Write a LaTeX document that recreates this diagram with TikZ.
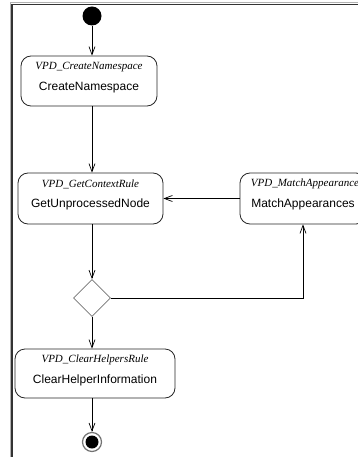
\documentclass[tikz,border=0pt]{standalone}
\usepackage{fontspec}
\setmainfont{Liberation Sans}
\newfontfamily\stereofont{Liberation Serif}
\usetikzlibrary{arrows.meta,shapes.geometric}

\tikzset{
  statebox/.style={draw=black!85, rectangle, rounded corners=10pt, inner sep=0pt, line width=0.8pt},
  stereo/.style={font=\stereofont\itshape\fontsize{11}{13}\selectfont, inner sep=0pt},
  act/.style={font=\fontsize{12}{14}\selectfont, inner sep=0pt},
  flow/.style={draw=black, line width=0.8pt, -{Straight Barb[length=8pt,width=6pt,line width=0.7pt]}},
  decision/.style={draw=black!55, diamond, inner sep=0pt, minimum width=37pt, minimum height=37pt, line width=0.8pt},
  frameline/.style={draw=black!80, line width=1.2pt},
  frameshade/.style={draw=black!30, line width=0.8pt}
}

\begin{document}
\begin{tikzpicture}[x=1pt,y=-1pt]
  \useasboundingbox (0,0) rectangle (358,457);
  \clip (0,0) rectangle (358,457);

  % swimlane frame
  \draw[frameshade] (10.8,457) -- (10.8,2.8) -- (358,2.8);
  \draw[frameline] (12,457) -- (12,4.2) -- (358,4.2);

  % initial and final states
  \node[circle, fill=black, minimum size=19pt, inner sep=0pt] (init) at (92,16) {};
  \node[circle, draw=black!55, line width=1.2pt, fill=white, minimum size=19pt, inner sep=0pt] (fin) at (92,442) {};
  \node[circle, fill=black, minimum size=13pt, inner sep=0pt] (findot) at (fin) {};

  % action states
  \node[statebox, minimum width=136pt, minimum height=50pt] (b1) at (89,81) {};
  \node[stereo] (b1s) at (89,67) {VPD\_CreateNamespace};
  \node[act] (b1a) at (89,87.5) {CreateNamespace};

  \node[statebox, minimum width=145pt, minimum height=51pt] (b2) at (90.5,198.5) {};
  \node[stereo] (b2s) at (90.5,184) {VPD\_GetContextRule};
  \node[act] (b2a) at (90.5,204) {GetUnprocessedNode};

  \node[statebox, minimum width=126pt, minimum height=51pt] (b3) at (303,198.5) {};
  \node[stereo] (b3s) at (305,184) {VPD\_MatchAppearance};
  \node[act] (b3a) at (303,204) {MatchAppearances};

  \node[statebox, minimum width=160pt, minimum height=49pt] (b4) at (95,373.5) {};
  \node[stereo] (b4s) at (95,360) {VPD\_ClearHelpersRule};
  \node[act] (b4a) at (95,380.5) {ClearHelperInformation};

  % decision
  \node[decision] (dec) at (92,298) {};

  % transitions
  \draw[flow] (init.south) -- (init.south |- b1.north);
  \draw[flow] (b1.south -| init) -- (b2.north -| init);
  \draw[flow] (b3.west) -- (b2.east);
  \draw[flow] (b2.south -| init) -- (dec.north);
  \draw[flow] (dec.east) -| (b3.south);
  \draw[flow] (dec.south) -- (b4.north -| dec);
  \draw[flow] (b4.south -| dec) -- (fin.north);
\end{tikzpicture}
\end{document}
